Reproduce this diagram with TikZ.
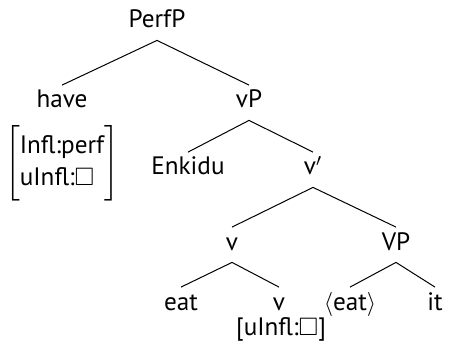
\documentclass[tikz,border=0pt]{standalone}
\usepackage{amsmath}
\usepackage{amssymb}
\usepackage{fontspec}
\setmainfont{PT Sans}
\usetikzlibrary{positioning}

\begin{document}
\begin{tikzpicture}[
      x=0.5pt,
      y=-0.5pt,
      tree_node/.style={
         anchor=base,
         inner sep=3pt,
         text height=8.25pt,
         text depth=3pt,
         font=\fontsize{12.6pt}{15pt}\selectfont},
      feat_node/.style={
         inner sep=0pt,
         font=\fontsize{12.6pt}{15pt}\selectfont},
      branch/.style={
         line width=0.5pt,
         draw=black}
]
      \useasboundingbox (0,0) rectangle (453,346);

      %root
      \node[tree_node] (perfp) at (157,28) {PerfP};

      \node[tree_node] (have) at (62,108) {have};
      \node[tree_node] (vp) at (249,108) {vP};

      \node[tree_node] (enkidu) at (188,175) {Enkidu};
      \node[tree_node] (vbar) at (313,175) {v$'$};

      \node[tree_node] (v) at (232,250) {v};
      \node[tree_node] (vp2) at (396,250) {VP};

      \node[tree_node] (eat) at (181,310) {eat};
      \node[tree_node] (vlow) at (279,310) {v};
      \node[tree_node] (eatcopy) at (350,310) {$\langle$eat$\rangle$};
      \node[tree_node] (it) at (435,310) {it};

      %features
      \node[feat_node] (havefeat) at (62,163)
         {$\delimitershortfall=-3pt\renewcommand{\arraystretch}{1.07}\left[\begin{array}{@{}l@{}}\text{Infl:perf}\\ \text{uInfl:}\square\end{array}\right]$};
      \node[feat_node,anchor=base] (vfeat) at (281,335) {[uInfl:$\square$]};

    \foreach \i/\j in {% mother/daughter
      perfp/have, perfp/vp,
      vp/enkidu, vp/vbar,
      vbar/v, vbar/vp2,
      v/eat, v/vlow,
      vp2/eatcopy, vp2/it}
    \draw [branch] (\i.south) -- (\j.north);

\end{tikzpicture}
\end{document}
